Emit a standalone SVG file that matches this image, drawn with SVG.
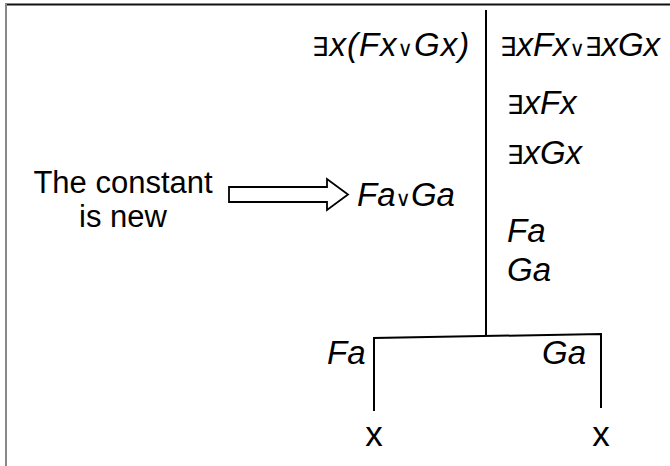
<svg xmlns="http://www.w3.org/2000/svg" width="670" height="466" viewBox="0 0 670 466">
<style>
.f{font-family:"Liberation Sans",Arial,"DejaVu Sans",sans-serif;font-style:italic;font-size:33px;fill:#000}
.r{font-family:"Liberation Sans",Arial,sans-serif;font-size:31px;fill:#000}
.x{font-family:"Liberation Sans",Arial,sans-serif;font-size:35px;fill:#000}
.s{font-size:21px;font-style:normal}
.e{font-family:"DejaVu Sans",sans-serif;font-size:26px;font-style:normal}
.ln{stroke:#000;stroke-width:2;fill:none}
</style>
<rect width="670" height="466" fill="#fff"/>
<line x1="5" y1="4.5" x2="670" y2="4.5" stroke="#111" stroke-width="2"/>
<line x1="6" y1="4" x2="6" y2="466" stroke="#888" stroke-width="2"/>
<g id="connectors">
<polyline class="ln" points="486,10 486,336"/>
<polyline class="ln" points="374,411 374,338 601,334 601,408"/>
<path id="blockarrow" d="M229,187 H327 V179 L348,194.5 L327,210 V202 H229 Z" fill="#fff" stroke="#000" stroke-width="1.8" stroke-linejoin="miter"/>
</g>
<g id="label">
<text class="r" x="123" y="193" text-anchor="middle">The constant</text>
<text class="r" x="123" y="227" text-anchor="middle">is new</text>
</g>
<g id="premise">
<text class="f" x="312" y="56" letter-spacing="1"><tspan class="e">∃</tspan>x(Fx<tspan class="s">∨</tspan>Gx)</text>
</g>
<g id="conclusion">
<text class="f" x="500" y="56"><tspan class="e">∃</tspan>xFx<tspan class="s">∨</tspan><tspan class="e">∃</tspan>xGx</text>
</g>
<g id="n-exF"><text class="f" x="507" y="114"><tspan class="e">∃</tspan>xFx</text></g>
<g id="n-exG"><text class="f" x="507" y="164"><tspan class="e">∃</tspan>xGx</text></g>
<g id="n-disj"><text class="f" x="357" y="206">Fa<tspan class="s">∨</tspan>Ga</text></g>
<g id="n-Fa"><text class="f" x="507" y="242">Fa</text></g>
<g id="n-Ga"><text class="f" x="507" y="281">Ga</text></g>
<g id="b-left">
<text class="f" x="327" y="364">Fa</text>
<text class="x" x="374" y="446" text-anchor="middle">x</text>
</g>
<g id="b-right">
<text class="f" x="542" y="364">Ga</text>
<text class="x" x="601" y="446" text-anchor="middle">x</text>
</g>
</svg>
